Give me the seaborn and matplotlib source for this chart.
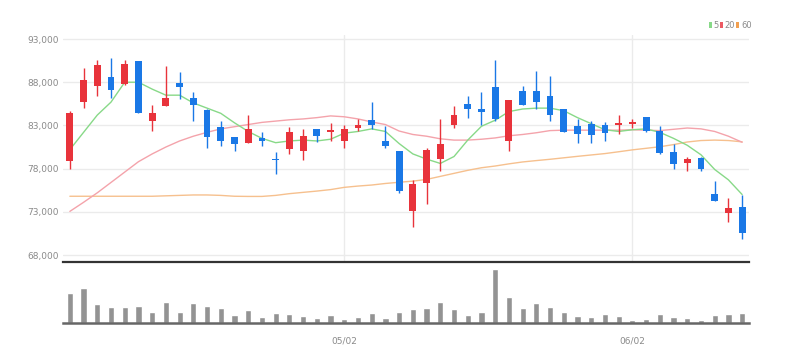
import matplotlib
matplotlib.use("Agg")
import matplotlib.pyplot as plt
from matplotlib.patches import Rectangle
from matplotlib.ticker import FuncFormatter
import seaborn as sns
import numpy as np

# ---------------- data ----------------
opens = [78900, 85700, 87600, 88600, 87800, 90400, 83500, 85250, 87900, 86200,
         84750, 82800, 81650, 81000, 81550, 79150, 80300, 80000, 82600, 82250,
         81250, 82650, 83600, 81200, 80000, 73100, 76300, 79100, 83100, 85500,
         84850, 87400, 81200, 86950, 86950, 86450, 84900, 82900, 83200, 83000,
         83100, 83200, 83950, 82400, 79900, 78700, 79200, 75100, 72900, 73550]
highs = [84650, 89650, 90550, 90800, 90600, 90400, 85400, 89900, 89150, 86900,
         84850, 83500, 81650, 84150, 82250, 79900, 82800, 82600, 82600, 83300,
         83000, 83800, 85700, 82900, 80000, 76650, 80400, 83750, 85250, 86450,
         86850, 90550, 85900, 87600, 89250, 88750, 84900, 83800, 83500, 83400,
         84150, 83750, 83950, 82900, 80800, 79350, 79350, 76550, 74600, 75000]
lows = [78000, 85050, 86400, 86200, 87700, 84450, 82400, 85250, 86100, 83500,
        80400, 80600, 80000, 81000, 80600, 77400, 79650, 78950, 81050, 81200,
        80400, 82350, 82550, 80400, 75200, 71250, 73900, 77750, 82750, 83900,
        83100, 83500, 80050, 85400, 84850, 83500, 82250, 81000, 81000, 81200,
        82050, 82750, 82250, 79650, 77900, 77700, 77700, 74300, 71800, 69900]
closes = [84400, 88300, 89950, 87100, 90150, 84450, 84450, 86200, 87400, 85350,
          81700, 81200, 80900, 82550, 81250, 78950, 82250, 81750, 81750, 82450,
          82550, 83100, 83000, 80600, 75400, 76200, 80150, 80900, 84250, 84850,
          84550, 83700, 85900, 85400, 85700, 84200, 82250, 82050, 81900, 82150,
          83250, 83400, 82350, 79850, 78550, 79150, 77900, 74300, 73450, 70550]
volumes = [88, 105, 56, 48, 48, 50, 31, 61, 33, 58,
           51, 45, 23, 38, 18, 30, 26, 21, 13, 23,
           10, 18, 30, 13, 31, 40, 45, 63, 40, 23,
           33, 160, 78, 43, 58, 48, 33, 20, 18, 25,
           20, 8, 11, 25, 18, 13, 8, 23, 25, 30]
ma5 = [80200, 82200, 84200, 85700, 88000, 88000, 87200, 86500, 86500, 85600,
       85000, 84400, 83300, 82300, 81500, 81000, 81200, 81300, 81200, 81400,
       82100, 82300, 82600, 82300, 80900, 79700, 79100, 78600, 79400, 81300,
       82900, 83600, 84600, 84900, 85000, 85000, 84700, 83900, 83200, 82500,
       82300, 82500, 82600, 82200, 81500, 80700, 79600, 77900, 76700, 75000]
ma20 = [73050, 74100, 75200, 76400, 77600, 78800, 79700, 80500, 81200, 81750,
        82200, 82600, 82850, 83100, 83350, 83500, 83650, 83750, 83900, 84100,
        84000, 83750, 83400, 83100, 82350, 81950, 81750, 81450, 81300, 81300,
        81400, 81550, 81800, 81950, 82150, 82400, 82450, 82450, 82450, 82450,
        82450, 82500, 82450, 82400, 82550, 82700, 82600, 82300, 81750, 81050]
ma60 = [74800, 74800, 74800, 74800, 74800, 74800, 74800, 74850, 74900, 74950,
        74950, 74900, 74800, 74780, 74780, 74900, 75100, 75250, 75400, 75570,
        75830, 75980, 76100, 76280, 76420, 76550, 76750, 77100, 77450, 77800,
        78100, 78300, 78550, 78770, 78930, 79080, 79250, 79420, 79580, 79740,
        79950, 80170, 80350, 80530, 80780, 81080, 81250, 81300, 81250, 81100]
tick_positions = [20, 41]
tick_labels = ["05/02", "06/02"]
y_ticks = [68000, 73000, 78000, 83000, 88000, 93000]
ma_labels = ["5", "20", "60"]

# ---------------- style ----------------
sns.set_theme(style="white")
plt.rcParams["font.family"] = ["Liberation Sans Narrow", "DejaVu Sans"]

UP = "#e8333b"
DOWN = "#1a78e6"
MA_COLORS = ["#88d988", "#f4a3ab", "#f6c08e"]
GRID = "#ebebeb"
TXT = "#8a8a8a"

W, H = 791, 364
fig = plt.figure(figsize=(W / 100, H / 100), dpi=100)
fig.patch.set_facecolor("white")

def fx(px):
    return px / W

def fy(py):
    return 1 - py / H

left_px, right_px = 63, 749
ax = fig.add_axes([fx(left_px), fy(261.7), fx(right_px - left_px), (261.7 - 34.7) / H])
axv = fig.add_axes([fx(left_px), fy(322.7), fx(right_px - left_px), (322.7 - 266) / H])

idx = np.arange(len(closes))

# grid
for yv in y_ticks:
    ax.axhline(yv, color=GRID, lw=1, zorder=0)
for xv in tick_positions:
    ax.axvline(xv, color=GRID, lw=1, zorder=0)

# moving averages
for vals, col in zip([ma60, ma20, ma5], [MA_COLORS[2], MA_COLORS[1], MA_COLORS[0]]):
    sns.lineplot(x=idx, y=vals, ax=ax, color=col, lw=1.0, zorder=2, legend=False)

# candles
for i in idx:
    o, h, l, c = opens[i], highs[i], lows[i], closes[i]
    col = UP if c >= o else DOWN
    ax.vlines(i, l, h, color=col, lw=1, zorder=3)
    body = max(abs(c - o), 180)
    bottom = min(o, c) if abs(c - o) >= 180 else (o + c) / 2 - 90
    ax.bar(i, body, bottom=bottom, width=0.5, color=col, edgecolor=col, lw=0, zorder=4)

ax.set_xlim(-0.5, len(closes) - 0.5)
ax.set_ylim(67225, 93500)
ax.set_yticks(y_ticks)
ax.yaxis.set_major_formatter(FuncFormatter(lambda v, p: f"{v:,.0f}"))
ax.tick_params(axis="y", length=0, pad=3, labelsize=6.5, labelcolor=TXT)
ax.set_xticks([])
ax.set_xlabel("")
ax.set_ylabel("")
for s in ["top", "right", "left"]:
    ax.spines[s].set_visible(False)
ax.spines["bottom"].set_color("#333333")
ax.spines["bottom"].set_linewidth(1.6)

# volume
sns.barplot(x=idx, y=volumes, ax=axv, color="#939393", width=0.45, saturation=1, zorder=2)
axv.set_xlim(-0.5, len(closes) - 0.5)
axv.set_ylim(0, 170)
axv.set_yticks([])
axv.set_xticks(tick_positions)
axv.set_xticklabels(tick_labels)
axv.tick_params(axis="x", length=4, width=1, color="#555555", pad=6, labelsize=6.5, labelcolor=TXT)
axv.set_xlabel("")
axv.set_ylabel("")
for s in ["top", "right", "left"]:
    axv.spines[s].set_visible(False)
axv.spines["bottom"].set_color("#666666")
axv.spines["bottom"].set_linewidth(1.8)

# legend (top right)
leg_items = [(709, MA_COLORS[0], ma_labels[0], 713),
             (720, "#ec5a63", ma_labels[1], 724),
             (736, "#f2a050", ma_labels[2], 741)]
for sx, col, lab, tx in leg_items:
    fig.add_artist(Rectangle((fx(sx), fy(28)), fx(3), 6 / H, transform=fig.transFigure,
                             facecolor=col, edgecolor="none"))
    fig.text(fx(tx), fy(25), lab, fontsize=6, color=TXT, va="center", ha="left")

fig.savefig("out.png", dpi=100, facecolor="white")
